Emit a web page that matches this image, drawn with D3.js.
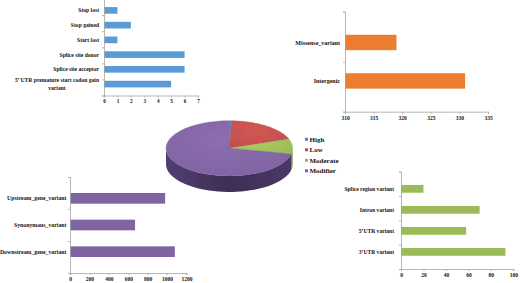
<!DOCTYPE html>
<html lang="en">
<head>
    <meta charset="UTF-8">
    <title>Variant effects</title>
    <script src="https://cdnjs.cloudflare.com/ajax/libs/d3/7.8.5/d3.min.js"></script>
    <style>
        body { margin: 0; background: #fff; }
        text { font-family: "Liberation Serif", "Times New Roman", serif; font-weight: bold; fill: #111; }
    </style>
</head>
<body>
<script>
// high impact variants (top left)
var highCats = ["Stop lost", "Stop gained", "Start lost", "Splice site donor", "Splice site acceptor", "5\u2019 UTR premature start codon gain variant"];
var highVals = [1, 2, 1, 6, 6, 5];
var highTicks = [0, 1, 2, 3, 4, 5, 6, 7];

// moderate / intergenic (top right)
var modCats = ["Missense_variant", "Intergenic"];
var modVals = [319, 331];
var modTicks = [310, 315, 320, 325, 330, 335];

// low / modifier (bottom left)
var lowCats = ["Upstream_gene_variant", "Synonymous_variant", "Downstream_gene_variant"];
var lowVals = [980, 670, 1080];
var lowTicks = [0, 200, 400, 600, 800, 1000, 1200];

// utr / intron (bottom right)
var utrCats = ["Splice region variant", "Intron variant", "5\u2019UTR variant", "3\u2019UTR variant"];
var utrVals = [20, 70, 58, 93];
var utrTicks = [0, 20, 40, 60, 80, 100];

// pie: impact classes
var impactLabels = ["High", "Low", "Moderate", "Modifier"];
var impactVals = [21, 689, 319, 2603];

var svg = d3.select("body").append("svg")
        .attr("width", 520)
        .attr("height", 283);

function barPanel(o) {
    var g = svg.append("g");
    var x = d3.scaleLinear().domain(o.domain).range(o.xr);
    var y = d3.scaleBand().domain(o.cats).range(o.yr).padding(o.pad);

    g.selectAll("rect").data(o.vals).enter().append("rect")
            .attr("x", x(o.domain[0]))
            .attr("y", function(d, i) { return y(o.cats[i]); })
            .attr("width", function(d) { return x(d) - x(o.domain[0]); })
            .attr("height", y.bandwidth())
            .attr("fill", o.color);

    // x axis
    var xa = g.append("g")
            .attr("transform", "translate(0," + o.yr[1] + ")")
            .call(d3.axisBottom(x).tickValues(o.ticks).tickFormat(d3.format("d")).tickSize(2).tickPadding(2));
    xa.selectAll("text").style("font-size", o.tickFs + "px").attr("fill", "#111");

    // y axis, ticks between categories
    var yb = d3.scaleLinear().domain([0, o.cats.length]).range(o.yr);
    g.append("g")
            .attr("transform", "translate(" + o.xr[0] + ",0)")
            .call(d3.axisLeft(yb).ticks(o.cats.length).tickFormat("").tickSize(2));
    g.selectAll(".domain, .tick line").attr("stroke", "#a6a6a6").attr("stroke-width", 0.8);

    // category labels
    var lx = o.xr[0] - o.gap;
    o.cats.forEach(function(c) {
        var cy = y(c) + y.bandwidth() / 2;
        var t = g.append("text")
                .attr("x", lx).attr("y", cy)
                .attr("dy", "0.35em")
                .attr("text-anchor", "end")
                .style("font-size", o.fs + "px")
                .text(c);
        if (o.wrap && t.node().getComputedTextLength() > o.wrap) {
            var words = c.split(" ");
            var last = words.pop();
            t.text(words.join(" "));
            var w = t.node().getComputedTextLength();
            t.attr("y", cy - o.fs * 0.65);
            g.append("text")
                    .attr("x", lx - w / 2).attr("y", cy + o.fs * 0.65)
                    .attr("dy", "0.35em")
                    .attr("text-anchor", "middle")
                    .style("font-size", o.fs + "px")
                    .text(last);
        }
    });
}

barPanel({cats: highCats, vals: highVals, domain: [0, 7], ticks: highTicks,
    xr: [104, 198], yr: [-1, 95.5], pad: 0.55, color: "#5b9bd5",
    fs: 5.6, tickFs: 5.2, gap: 5, wrap: 90});
barPanel({cats: modCats, vals: modVals, domain: [310, 335], ticks: modTicks,
    xr: [345, 488], yr: [11.7, 111.7], pad: 0.6, color: "#ed7d31",
    fs: 6, tickFs: 5.5, gap: 5});
barPanel({cats: lowCats, vals: lowVals, domain: [0, 1200], ticks: lowTicks,
    xr: [70, 186.5], yr: [177, 273], pad: 0.6, color: "#8064a2",
    fs: 5.8, tickFs: 5.5, gap: 3.5});
barPanel({cats: utrCats, vals: utrVals, domain: [0, 100], ticks: utrTicks,
    xr: [401, 513.3], yr: [171.7, 269], pad: 0.63, color: "#9bbb59",
    fs: 5.6, tickFs: 5.5, gap: 7});

// 3d pie
var pieColors = ["#4f81bd", "#c0504d", "#9bbb59", "#8064a2"];
var sideColors = ["#2f5687", "#8a2d2b", "#6b8a35", "#4a3866"];
var cx = 229.3, cy = 148.3, rx = 63.3, ry = 27.6, depth = 16;
var arcs = d3.pie().sort(null)(impactVals);

var defs = svg.append("defs");
pieColors.forEach(function(c, i) {
    var gr = defs.append("linearGradient").attr("id", "side" + i)
            .attr("x1", 0).attr("x2", 1).attr("y1", 0).attr("y2", 0);
    gr.append("stop").attr("offset", 0).attr("stop-color", d3.color(sideColors[i]).brighter(0.3));
    gr.append("stop").attr("offset", 0.5).attr("stop-color", d3.color(sideColors[i]).darker(0.5));
    gr.append("stop").attr("offset", 1).attr("stop-color", sideColors[i]);
    var tg = defs.append("radialGradient").attr("id", "top" + i)
            .attr("cx", 0.45).attr("cy", 0.35).attr("r", 0.7);
    tg.append("stop").attr("offset", 0).attr("stop-color", d3.color(c).brighter(0.25));
    tg.append("stop").attr("offset", 1).attr("stop-color", c);
});

function pt(a, dy) {
    return [cx + rx * Math.sin(a), cy - ry * Math.cos(a) + (dy || 0)];
}
function ellArc(a0, a1, dy) {
    var s = "", n = 40;
    for (var k = 0; k <= n; k++) {
        var p = pt(a0 + (a1 - a0) * k / n, dy);
        s += (k ? "L" : "M") + p[0] + "," + p[1];
    }
    return s;
}

var pg = svg.append("g");
// visible sides: angles between PI/2 and 3PI/2
arcs.forEach(function(d, i) {
    var a0 = Math.max(d.startAngle, Math.PI / 2), a1 = Math.min(d.endAngle, 3 * Math.PI / 2);
    if (a1 <= a0) return;
    var top = ellArc(a0, a1, 0);
    var bot = ellArc(a1, a0, depth).replace("M", "L");
    pg.append("path")
            .attr("d", top + bot + "Z")
            .attr("fill", "url(#side" + i + ")");
});
// top faces
arcs.forEach(function(d, i) {
    var s = "M" + cx + "," + cy + ellArc(d.startAngle, d.endAngle, 0).replace("M", "L") + "Z";
    pg.append("path")
            .attr("d", s)
            .attr("fill", "url(#top" + i + ")")
            .attr("stroke", d3.color(pieColors[i]).darker(0.3))
            .attr("stroke-width", 0.3);
});

// legend
var lg = svg.append("g").attr("transform", "translate(305,139.3)");
impactLabels.forEach(function(l, i) {
    lg.append("rect").attr("x", 0).attr("y", i * 10.5 - 1.5)
            .attr("width", 3).attr("height", 3).attr("fill", pieColors[i]);
    lg.append("text").attr("x", 4.5).attr("y", i * 10.5)
            .attr("dy", "0.35em")
            .style("font-size", "7px")
            .text(l);
});
</script>
</body>
</html>
